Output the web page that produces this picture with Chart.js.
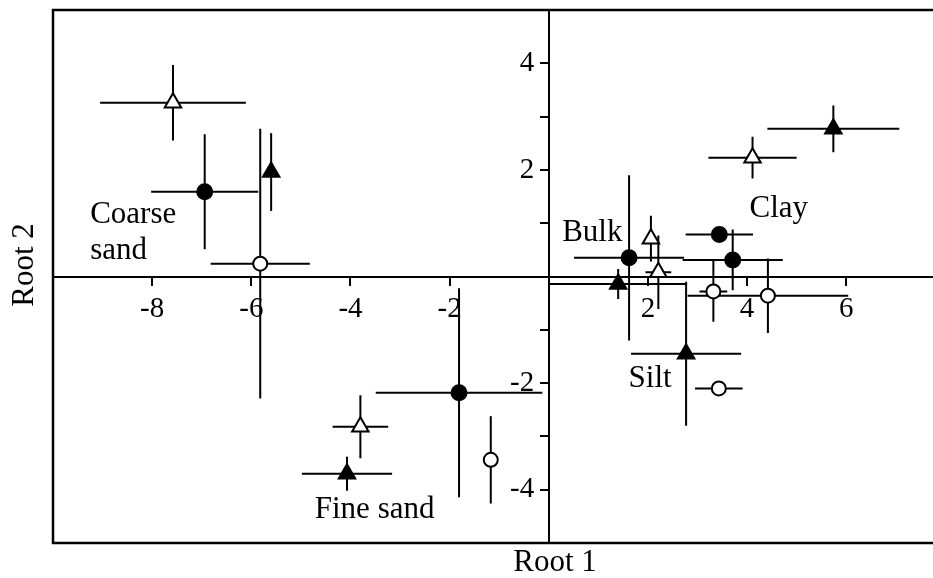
<!DOCTYPE html>
<html>
<head>
<meta charset="utf-8">
<script src="https://cdn.jsdelivr.net/npm/chart.js@4.4.1/dist/chart.umd.min.js"></script>
<style>
  body { margin: 0; background: #fff; }
  .wrap { width: 933px; height: 578px; }
</style>
</head>
<body>
<div class="wrap"><canvas id="chart"></canvas></div>
<script>
// order of points in every series: coarse sand, fine sand, bulk, clay, silt
const fractions = ['Coarse sand', 'Fine sand', 'Bulk', 'Clay', 'Silt'];

const circleFilledX = [-6.94, -1.81, 1.62, 3.44, 3.71];
const circleFilledY = [1.59, -2.18, 0.35, 0.79, 0.31];
const circleFilledXErr = [1.08, 1.68, 1.11, 0.68, 1.01];
const circleFilledYErr = [1.08, 1.96, 1.55, 0, 0.57];

const circleOpenX = [-5.82, -1.17, 3.32, 4.42, 3.43];
const circleOpenY = [0.24, -3.44, -0.28, -0.36, -2.10];
const circleOpenXErr = [1.0, 0, 0.28, 1.62, 0.48];
const circleOpenYErr = [2.53, 0.82, 0.57, 0.70, 0];

const triOpenX = [-7.58, -3.80, 2.06, 4.11, 2.21];
const triOpenY = [3.26, -2.82, 0.71, 2.23, 0.08];
const triOpenXErr = [1.47, 0.56, 0, 0.89, 0.26];
const triOpenYErr = [0.71, 0.59, 0.43, 0.39, 0.69];

const triFilledX = [-5.60, -4.07, 1.40, 5.74, 2.77];
const triFilledY = [1.96, -3.70, -0.14, 2.77, -1.45];
const triFilledXErr = [0, 0.91, 1.39, 1.33, 1.11];
const triFilledYErr = [0.73, 0.32, 0.28, 0.44, 1.35];

const xTickValues = [-8, -6, -4, -2, 0, 2, 4, 6];
const yTickValues = [-4, -3, -2, -1, 0, 1, 2, 3, 4];
const yTickLabels = [-4, -2, 2, 4];

const font = 'Liberation Serif';

function makeSeries(xs, ys, xErr, yErr, style, fill, r) {
  return {
    data: xs.map((x, i) => ({ x: x, y: ys[i], xErr: xErr[i], yErr: yErr[i] })),
    pointStyle: style,
    pointRadius: r,
    pointBackgroundColor: fill,
    pointBorderColor: '#000',
    pointBorderWidth: 2,
    showLine: false
  };
}

// the axes cross inside the plot, so they must not push the plot area around
function noScalePadding(axis) {
  axis.paddingTop = 0;
  axis.paddingBottom = 0;
  axis.paddingLeft = 0;
  axis.paddingRight = 0;
}

// error bars under the markers
const errorBars = {
  id: 'errorBars',
  beforeDatasetsDraw(chart) {
    const ctx = chart.ctx;
    const sx = chart.scales.x, sy = chart.scales.y;
    ctx.save();
    ctx.strokeStyle = '#000';
    ctx.lineWidth = 2;
    chart.data.datasets.forEach(ds => {
      ds.data.forEach(p => {
        const px = sx.getPixelForValue(p.x), py = sy.getPixelForValue(p.y);
        ctx.beginPath();
        if (p.xErr > 0) {
          ctx.moveTo(sx.getPixelForValue(p.x - p.xErr), py);
          ctx.lineTo(sx.getPixelForValue(p.x + p.xErr), py);
        }
        if (p.yErr > 0) {
          ctx.moveTo(px, sy.getPixelForValue(p.y + p.yErr));
          ctx.lineTo(px, sy.getPixelForValue(p.y - p.yErr));
        }
        ctx.stroke();
      });
    });
    ctx.restore();
  }
};

// group names, placed in data units
const labelSpots = [[-9.25, 1.01], [-4.72, -4.53], [0.27, 0.66], [4.05, 1.11], [1.61, -2.07]];

const frameAndText = {
  id: 'frameAndText',
  afterDraw(chart) {
    const ctx = chart.ctx;
    const a = chart.chartArea;
    const sx = chart.scales.x, sy = chart.scales.y;
    ctx.save();
    ctx.strokeStyle = '#000';
    ctx.lineWidth = 2.5;
    ctx.beginPath();
    ctx.moveTo(a.right, a.top);
    ctx.lineTo(a.left, a.top);
    ctx.lineTo(a.left, a.bottom);
    ctx.lineTo(a.right, a.bottom);
    ctx.stroke();

    ctx.fillStyle = '#000';
    ctx.font = '31px "' + font + '"';
    ctx.textAlign = 'left';
    ctx.textBaseline = 'alphabetic';
    fractions.forEach((name, i) => {
      const lx = sx.getPixelForValue(labelSpots[i][0]);
      const ly = sy.getPixelForValue(labelSpots[i][1]);
      const parts = name === 'Coarse sand' ? ['Coarse', 'sand'] : [name];
      parts.forEach((t, j) => ctx.fillText(t, lx, ly + j * 36));
    });

    ctx.textAlign = 'center';
    ctx.textBaseline = 'middle';
    ctx.fillText('Root 1', 555, 563);
    ctx.translate(25, 265);
    ctx.rotate(-Math.PI / 2);
    ctx.fillText('Root 2', 0, 0);
    ctx.restore();
  }
};

new Chart(document.getElementById('chart'), {
  type: 'scatter',
  data: {
    datasets: [
      makeSeries(circleFilledX, circleFilledY, circleFilledXErr, circleFilledYErr, 'circle', '#000', 7.5),
      makeSeries(circleOpenX, circleOpenY, circleOpenXErr, circleOpenYErr, 'circle', '#fff', 7),
      makeSeries(triOpenX, triOpenY, triOpenXErr, triOpenYErr, 'triangle', '#fff', 9.5),
      makeSeries(triFilledX, triFilledY, triFilledXErr, triFilledYErr, 'triangle', '#000', 9.5)
    ]
  },
  options: {
    responsive: true,
    maintainAspectRatio: false,
    animation: false,
    layout: { autoPadding: false, padding: { left: 53, top: 10, right: 0, bottom: 35 } },
    plugins: { legend: { display: false }, tooltip: { enabled: false } },
    scales: {
      x: {
        type: 'linear',
        min: -10,
        max: 7.75,
        position: { y: 0 },
        afterBuildTicks: axis => { axis.ticks = xTickValues.map(v => ({ value: v })); },
        afterFit: noScalePadding,
        ticks: {
          color: '#000',
          font: { family: font, size: 29 },
          padding: 7,
          maxRotation: 0,
          callback: v => (v === 0 ? '' : String(v))
        },
        grid: { drawOnChartArea: false, drawTicks: true, tickLength: 8, color: '#000', lineWidth: 2 },
        border: { display: true, color: '#000', width: 2 }
      },
      y: {
        type: 'linear',
        min: -5,
        max: 5,
        position: { x: 0 },
        afterBuildTicks: axis => { axis.ticks = yTickValues.map(v => ({ value: v })); },
        afterFit: noScalePadding,
        ticks: {
          color: '#000',
          font: { family: font, size: 29 },
          // labels sit right-aligned on the axis, two spaces push them left of the ticks
          callback: v => (yTickLabels.includes(v) ? v + '  ' : '')
        },
        grid: { drawOnChartArea: false, drawTicks: true, tickLength: 8, color: '#000', lineWidth: 2 },
        border: { display: true, color: '#000', width: 2 }
      }
    }
  },
  plugins: [errorBars, frameAndText]
});
</script>
</body>
</html>
